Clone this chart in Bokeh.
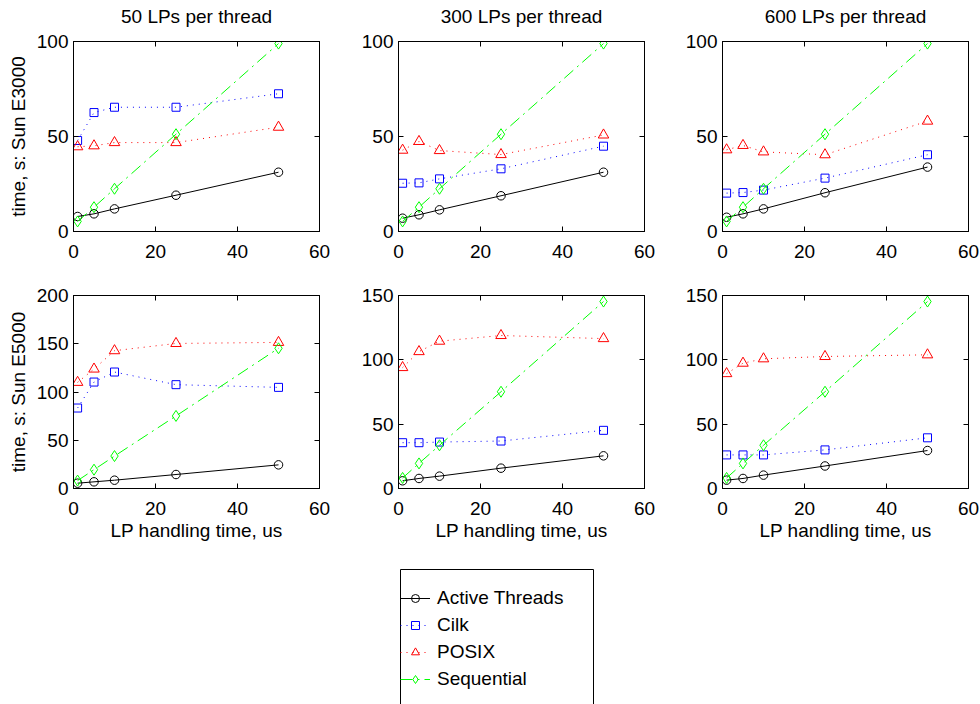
from bokeh.plotting import figure
from bokeh.layouts import column, row
from bokeh.models import (Range1d, FixedTicker, LinearAxis, Legend, LegendItem,
                          CustomJSTickFormatter, BoxAnnotation)
from bokeh.embed import file_html
from bokeh.resources import INLINE

FONT = "Liberation Sans"
FS = "19px"

# ---- data -------------------------------------------------------------
lp_time = [1, 5, 10, 25, 50]          # LP handling time, us
x_ticks = [0, 20, 40, 60]
panel_titles = ["50 LPs per thread", "300 LPs per thread", "600 LPs per thread"]
series_names = ["Active Threads", "Cilk", "POSIX", "Sequential"]

# Sun E3000, time in seconds
active_e3000_50 = [7.9, 9.3, 11.9, 19.1, 31.2]
cilk_e3000_50 = [47.9, 62.6, 65.4, 65.4, 72.5]
posix_e3000_50 = [44.6, 45.1, 46.8, 46.8, 54.9]
active_e3000_300 = [7.0, 8.8, 11.4, 18.8, 31.2]
cilk_e3000_300 = [25.4, 25.6, 27.7, 33.0, 44.9]
posix_e3000_300 = [42.8, 47.4, 42.6, 40.5, 50.8]
active_e3000_600 = [7.5, 9.3, 11.9, 20.4, 33.9]
cilk_e3000_600 = [20.2, 20.5, 21.8, 28.1, 40.4]
posix_e3000_600 = [43.0, 45.3, 41.9, 40.4, 58.1]
seq_e3000 = [5.3, 12.8, 22.5, 51.2, 98.9]

# Sun E5000, time in seconds
active_e5000_50 = [5.5, 6.9, 8.6, 14.5, 24.5]
cilk_e5000_50 = [83.4, 110.3, 120.7, 107.6, 104.8]
posix_e5000_50 = [110.0, 123.8, 142.8, 150.3, 151.4]
active_e5000_300 = [6.0, 7.8, 9.6, 15.8, 25.4]
cilk_e5000_300 = [35.6, 35.6, 36.1, 36.9, 45.2]
posix_e5000_300 = [94.0, 106.4, 114.5, 118.9, 116.5]
active_e5000_600 = [6.5, 7.8, 10.4, 17.5, 29.5]
cilk_e5000_600 = [26.1, 26.1, 26.1, 30.0, 39.4]
posix_e5000_600 = [89.3, 97.4, 100.8, 102.6, 103.9]
seq_e5000 = [8.2, 19.5, 33.6, 75.2, 145.3]

e3000_y_ticks = [0, 50, 100]
e5000_50_y_ticks = [0, 50, 100, 150, 200]
e5000_y_ticks = [0, 50, 100, 150]

# ---- styles (colour, dash, marker, marker size) ------------------------
STYLES = [
    ("#000000", "solid", "circle", 8.5),
    ("#0000FF", "1 5", "square", 8),
    ("#FF0000", "1 5", "triangle", 10.5),
    ("#00FF00", "12 5 2 5", "diamond", 11),
]


def style_axis(ax, ticks, labels=True, standoff=5):
    ax.ticker = FixedTicker(ticks=ticks)
    ax.major_tick_in = 5
    ax.major_tick_out = 0
    ax.minor_tick_line_color = None
    ax.axis_line_color = "black"
    ax.major_tick_line_color = "black"
    ax.major_label_text_font = FONT
    ax.major_label_text_color = "black"
    ax.axis_label_text_font = FONT
    ax.axis_label_text_font_size = FS
    ax.axis_label_text_font_style = "normal"
    ax.axis_label_text_color = "black"
    if labels:
        ax.major_label_text_font_size = FS
        ax.major_label_standoff = standoff
    else:
        ax.formatter = CustomJSTickFormatter(code="return ''")
        ax.major_label_text_font_size = "1px"
        ax.major_label_standoff = 0


def add_series(p, xs, ys, style):
    color, dash, marker, size = style
    ln = p.line(xs, ys, line_color=color, line_dash=dash, line_width=1)
    sc = p.scatter(xs, ys, marker=marker, size=size, line_color=color,
                   fill_color=color, fill_alpha=0, line_width=1)
    return ln, sc


def make_panel(values, y_max, y_ticks, width, height, left, right, top, bottom,
               title=None, ylabel=None, xlabel=None):
    p = figure(width=width, height=height, x_range=Range1d(0, 60),
               y_range=Range1d(0, y_max), output_backend="svg",
               toolbar_location=None,
               min_border_left=left, min_border_right=right,
               min_border_top=top, min_border_bottom=bottom,
               background_fill_color="white", border_fill_color="white",
               outline_line_color="black")
    p.grid.visible = False

    style_axis(p.xaxis[0], x_ticks, True, 13)
    style_axis(p.yaxis[0], y_ticks, True, 5)
    if xlabel:
        p.xaxis[0].axis_label = xlabel
        p.xaxis[0].axis_label_standoff = 2
    if ylabel:
        p.yaxis[0].axis_label = ylabel
        p.yaxis[0].axis_label_standoff = 5

    # box-style ticks on the top and right edges; the panel heading sits on the top axis
    top_ax = LinearAxis()
    style_axis(top_ax, x_ticks, False)
    if title:
        top_ax.axis_label = title
        top_ax.axis_label_standoff = 15
    p.add_layout(top_ax, "above")
    right_ax = LinearAxis()
    style_axis(right_ax, y_ticks, False)
    p.add_layout(right_ax, "right")

    for ys, style in zip(values, STYLES):
        add_series(p, lp_time, ys, style)
    return p


# column geometry: (figure width, left border, right border)
cols = [(338, 73, 19), (324, 60, 18), (318, 60, 12)]

top_values = [
    [active_e3000_50, cilk_e3000_50, posix_e3000_50, seq_e3000],
    [active_e3000_300, cilk_e3000_300, posix_e3000_300, seq_e3000],
    [active_e3000_600, cilk_e3000_600, posix_e3000_600, seq_e3000],
]
bottom_values = [
    [active_e5000_50, cilk_e5000_50, posix_e5000_50, seq_e5000],
    [active_e5000_300, cilk_e5000_300, posix_e5000_300, seq_e5000],
    [active_e5000_600, cilk_e5000_600, posix_e5000_600, seq_e5000],
]
bottom_ranges = [(200, e5000_50_y_ticks), (150, e5000_y_ticks), (150, e5000_y_ticks)]

top_row = []
for i, ((w, l, r), vals) in enumerate(zip(cols, top_values)):
    top_row.append(make_panel(vals, 100, e3000_y_ticks, w, 270, l, r, 41, 39,
                              title=panel_titles[i],
                              ylabel="time, s: Sun E3000" if i == 0 else None))

bottom_row = []
for i, ((w, l, r), vals, (ymax, yt)) in enumerate(zip(cols, bottom_values, bottom_ranges)):
    bottom_row.append(make_panel(vals, ymax, yt, w, 278, l, r, 25, 60,
                                 ylabel="time, s: Sun E5000" if i == 0 else None,
                                 xlabel="LP handling time, us"))

# legend panel: a framed box with the series key inside
lf = figure(width=980, height=156, x_range=Range1d(0, 1), y_range=Range1d(0, 1),
            output_backend="svg", toolbar_location=None, min_border=0,
            x_axis_location=None, y_axis_location=None, outline_line_color=None,
            background_fill_color="white", border_fill_color="white")
lf.grid.visible = False
lf.add_layout(BoxAnnotation(left=400, right=593, top=135, bottom=-6,
                            left_units="screen", right_units="screen",
                            top_units="screen", bottom_units="screen",
                            fill_alpha=0, line_color="black", line_width=1,
                            line_alpha=1))
items = []
nan = float("nan")
for name, style in zip(series_names, STYLES):
    ln, sc = add_series(lf, [nan], [nan], style)
    items.append(LegendItem(label=name, renderers=[ln, sc]))
legend = Legend(items=items, location=(400, 12), border_line_alpha=0,
                background_fill_alpha=0, padding=0, spacing=0, margin=0,
                glyph_width=30, glyph_height=20, label_height=27,
                label_standoff=7, label_text_font=FONT, label_text_font_size=FS,
                label_text_color="black")
lf.add_layout(legend)

layout = column(row(*top_row), row(*bottom_row), lf)

open("out.html", "w").write(file_html(layout, INLINE))
